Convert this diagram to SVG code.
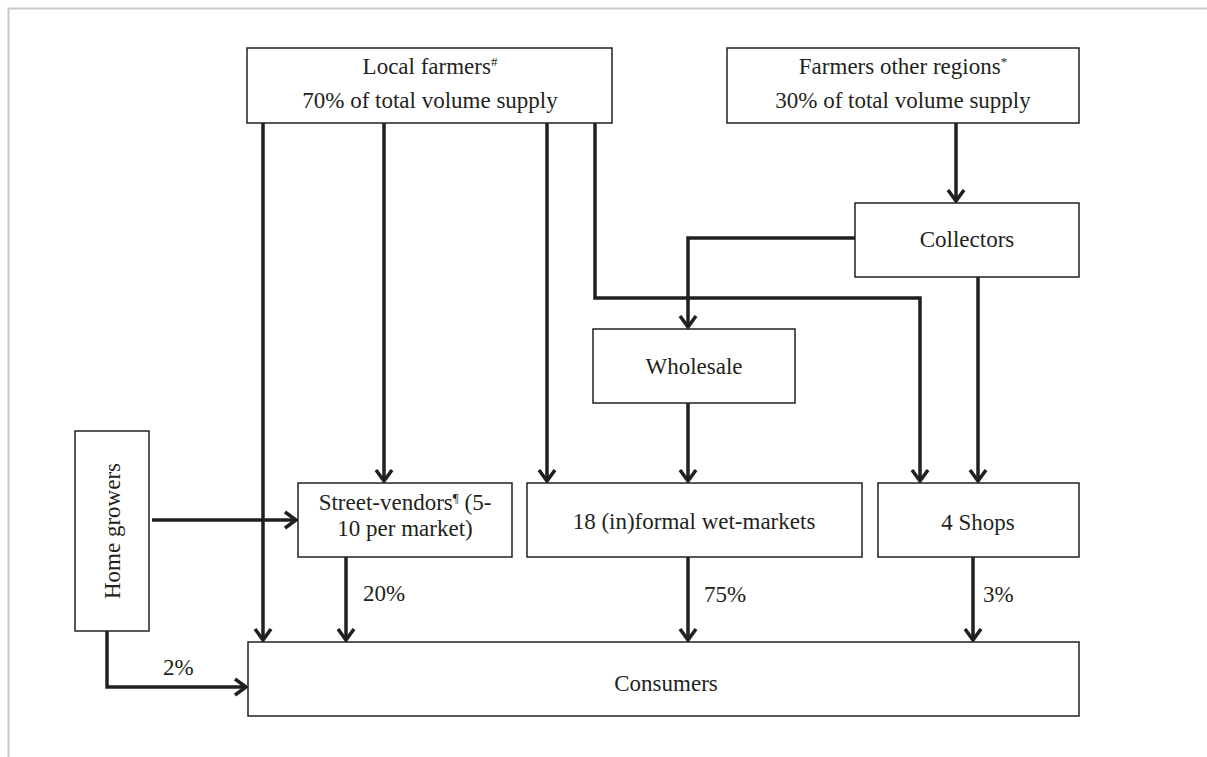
<svg xmlns="http://www.w3.org/2000/svg" width="1207" height="757" viewBox="0 0 1207 757">
<style>
.box{fill:#fff;stroke:#231f20;stroke-width:1.5}
.t{font-family:"Liberation Serif","DejaVu Serif",serif;font-size:23px;fill:#231f20;text-anchor:middle}
.l{font-family:"Liberation Serif","DejaVu Serif",serif;font-size:23px;fill:#231f20}
.sup{font-size:13px}
.c{fill:none;stroke:#231f20;stroke-width:3.5;marker-end:url(#ah)}
</style>
<defs>
<marker id="ah" markerUnits="userSpaceOnUse" markerWidth="24" markerHeight="24" refX="12" refY="12" orient="auto" viewBox="0 0 24 24">
<path d="M1,4 L12,12 L1,20" fill="none" stroke="#231f20" stroke-width="3.5"/>
</marker>
</defs>
<rect x="0" y="0" width="1207" height="757" fill="#fff"/>
<path d="M8.5,757 V8.5 H1207" fill="none" stroke="#c8c8c8" stroke-width="2"/>
<g id="connectors">
<path class="c" d="M263,123 V640"/>
<path class="c" d="M384,123 V481"/>
<path class="c" d="M547,123 V481"/>
<path class="c" d="M595,123 V298 H920 V481"/>
<path class="c" d="M956,123 V201"/>
<path class="c" d="M855,238 H688 V327"/>
<path class="c" d="M978,277 V481"/>
<path class="c" d="M688,403 V481"/>
<path class="c" d="M152,520 H296"/>
<path class="c" d="M346,557 V640"/>
<path class="c" d="M688,557 V640"/>
<path class="c" d="M973,557 V640"/>
<path class="c" d="M107,631 V687 H246"/>
<text class="l" x="363" y="601">20%</text>
<text class="l" x="704" y="602">75%</text>
<text class="l" x="983" y="602">3%</text>
<text class="l" x="163" y="675">2%</text>
</g>
<g id="local-farmers">
<rect class="box" x="247" y="48" width="365" height="75"/>
<text class="t" x="430" y="74">Local farmers<tspan class="sup" dy="-8">#</tspan></text>
<text class="t" x="430" y="108">70% of total volume supply</text>
</g>
<g id="farmers-other-regions">
<rect class="box" x="727" y="48" width="352" height="75"/>
<text class="t" x="903" y="74">Farmers other regions<tspan class="sup" dy="-8">*</tspan></text>
<text class="t" x="903" y="108">30% of total volume supply</text>
</g>
<g id="collectors">
<rect class="box" x="855" y="203" width="224" height="74"/>
<text class="t" x="967" y="247">Collectors</text>
</g>
<g id="wholesale">
<rect class="box" x="593" y="329" width="202" height="74"/>
<text class="t" x="694" y="374">Wholesale</text>
</g>
<g id="home-growers">
<rect class="box" x="75" y="431" width="74" height="200"/>
<text class="t" transform="translate(120,531) rotate(-90)" x="0" y="0">Home growers</text>
</g>
<g id="street-vendors">
<rect class="box" x="298" y="483" width="214" height="74"/>
<text class="t" x="405" y="510">Street-vendors<tspan class="sup" dy="-8">¶</tspan><tspan dy="8"> (5-</tspan></text>
<text class="t" x="405" y="536">10 per market)</text>
</g>
<g id="wet-markets">
<rect class="box" x="527" y="483" width="335" height="74"/>
<text class="t" x="694" y="529">18 (in)formal wet-markets</text>
</g>
<g id="shops">
<rect class="box" x="878" y="483" width="201" height="74"/>
<text class="t" x="978" y="530">4 Shops</text>
</g>
<g id="consumers">
<rect class="box" x="248" y="642" width="831" height="74"/>
<text class="t" x="666" y="691">Consumers</text>
</g>
</svg>
